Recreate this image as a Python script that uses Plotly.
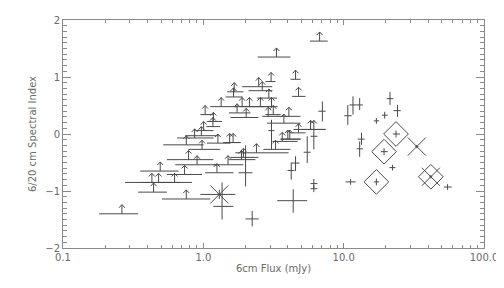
import plotly.graph_objects as go

# ---------------- data ----------------
# Lower limits on spectral index (arrows), 6cm flux (mJy) with flux range
lim_flux    = [0.263, 0.756, 0.442, 0.430, 0.480, 0.493, 0.624, 0.735, 0.902, 0.785,
               0.756, 0.867, 0.968, 0.979, 1.27, 1.25, 1.50, 1.54, 1.63, 1.87,
               1.93, 2.39, 3.27, 3.65, 4.00, 4.13, 4.77, 5.81, 6.13, 3.75,
               4.07, 2.90, 3.15, 3.06, 2.55, 2.13, 1.89, 2.02, 1.74, 1.34,
               1.03, 1.18, 1.17, 1.66, 1.64, 2.48, 2.63, 2.93, 3.04, 4.54,
               4.77, 3.32, 6.74, 1.005]
lim_flux_lo = [0.181, 0.507, 0.343, 0.277, 0.365, 0.355, 0.518, 0.550, 0.631, 0.550,
               0.518, 0.649, 0.744, 0.782, 1.06, 1.03, 1.18, 1.39, 1.39, 1.51,
               1.56, 1.69, 2.68, 3.11, 3.55, 3.55, 4.18, 4.39, 4.93, 2.85,
               3.36, 2.63, 2.77, 2.55, 2.23, 1.84, 1.64, 1.56, 1.52, 1.12,
               0.952, 1.06, 1.05, 1.48, 1.44, 1.89, 2.10, 2.42, 2.77, 4.18,
               4.30, 2.44, 5.75, 0.877]
lim_flux_hi = [0.343, 1.12, 0.550, 0.581, 0.685, 0.667, 0.830, 0.979, 1.25, 1.18,
               1.005, 1.18, 1.28, 1.32, 1.56, 1.64, 1.93, 1.84, 1.84, 2.35,
               2.47, 4.05, 4.18, 4.69, 4.93, 4.93, 5.35, 7.43, 7.43, 4.93,
               4.93, 3.43, 3.55, 3.38, 3.01, 2.68, 2.28, 2.47, 2.17, 1.74,
               1.18, 1.36, 1.32, 1.93, 1.90, 3.10, 3.11, 3.36, 3.27, 4.93,
               5.35, 4.18, 7.69, 1.18]
lim_index   = [-1.40, -1.14, -1.02, -0.85, -0.85, -0.65, -0.85, -0.71, -0.54, -0.45,
               -0.19, -0.07, -0.03, -0.27, -0.16, -0.68, -0.54, -0.15, -0.15, -0.45,
               -0.41, -0.33, -0.27, -0.13, -0.09, -0.09, 0.02, 0.08, 0.08, 0.19,
               0.31, 0.31, 0.34, 0.48, 0.48, 0.48, 0.48, 0.29, 0.37, 0.48,
               0.34, 0.22, 0.13, 0.74, 0.65, 0.83, 0.76, 0.63, 0.92, 0.96,
               0.66, 1.35, 1.63, 0.06]

# Detections with flux and index error ranges
det_flux     = [2.00, 4.54, 4.23, 5.50, 6.13, 6.13, 4.37, 2.23, 11.2, 1.36,
                7.05, 11.65, 13.0, 10.7, 13.4, 13.0, 6.13, 3.06, 21.4, 24.2,
                19.6, 17.1, 23.6, 19.4, 22.3, 17.1, 33.2, 41.8, 55.0, 1.30]
det_flux_lo  = [1.78, 4.25, 3.98, 5.18, 5.81, 5.81, 3.36, 2.00, 10.3, 1.18,
                6.60, 11.0, 12.4, 10.1, 12.6, 12.4, 5.81, 2.91, 20.3, 22.6,
                18.7, 16.4, 22.4, 18.4, 21.2, 16.4, 32.4, 40.8, 51.8, 0.952]
det_flux_hi  = [2.24, 4.85, 4.46, 5.81, 6.50, 6.50, 5.50, 2.48, 12.2, 1.64,
                7.43, 12.4, 13.7, 11.4, 14.1, 13.7, 6.50, 3.21, 22.6, 25.5,
                20.6, 17.9, 25.2, 20.6, 23.4, 17.9, 34.0, 42.8, 58.9, 1.69]
det_index    = [-0.68, -0.51, -0.64, -0.32, -0.87, -0.96, -1.17, -1.49, -0.84, -1.27,
                0.40, 0.51, 0.51, 0.32, -0.09, -0.26, -0.04, 0.06, 0.62, 0.41,
                0.33, 0.23, 0.00, -0.31, -0.59, -0.84, -0.22, -0.75, -0.93, -1.06]
det_index_lo = [-0.92, -0.65, -0.80, -0.51, -0.95, -1.02, -1.38, -1.62, -0.89, -1.50,
                0.22, 0.34, 0.42, 0.16, -0.19, -0.40, -0.27, -0.27, 0.51, 0.30,
                0.27, 0.18, -0.06, -0.37, -0.64, -0.90, -0.25, -0.78, -0.98, -1.14]
det_index_hi = [-0.20, -0.39, -0.50, -0.04, -0.79, -0.90, -0.97, -1.35, -0.79, -0.85,
                0.57, 0.66, 0.63, 0.51, 0.02, -0.13, 0.08, 0.25, 0.74, 0.51,
                0.39, 0.28, 0.06, -0.25, -0.54, -0.78, -0.19, -0.72, -0.88, -0.98]

# Highlighted sources
xmark_flux  = [1.30, 33.2, 41.8]
xmark_index = [-1.06, -0.22, -0.75]
diam_flux   = [23.6, 19.4, 17.1, 41.8]
diam_index  = [0.00, -0.31, -0.84, -0.75]

x_tick_vals = [0.1, 1, 10, 100]
x_tick_text = ['0.1', '1.0', '10.0', '100.0']
x_minor_vals = [m * d for d in (0.1, 1, 10) for m in range(2, 10)]

# ---------------- style ----------------
LINE = '#4a4a4a'
AXC = '#8a8a8a'
TXT = '#6a6a6a'
ARROW_LEN = 0.16   # length of limit arrow in index units
HEAD_F = 1.05      # half-width of arrow head (multiplicative in flux)
HEAD_H = 0.055     # arrow head height in index units

fig = go.Figure()

# limit points: horizontal flux bars + upward stem
fig.add_trace(go.Scatter(
    x=lim_flux, y=lim_index, mode='markers',
    marker=dict(size=1, color='rgba(0,0,0,0)'),
    error_x=dict(type='data', symmetric=False,
                 array=[h - f for h, f in zip(lim_flux_hi, lim_flux)],
                 arrayminus=[f - l for f, l in zip(lim_flux, lim_flux_lo)],
                 width=0, thickness=1, color=LINE),
    error_y=dict(type='data', symmetric=False,
                 array=[ARROW_LEN] * len(lim_flux),
                 arrayminus=[0] * len(lim_flux),
                 width=0, thickness=1, color=LINE),
    hoverinfo='skip', showlegend=False))

# arrow heads
hx, hy = [], []
for f, y in zip(lim_flux, lim_index):
    top = y + ARROW_LEN
    hx += [f / HEAD_F, f, f * HEAD_F, None]
    hy += [top - HEAD_H, top, top - HEAD_H, None]
fig.add_trace(go.Scatter(x=hx, y=hy, mode='lines', line=dict(color=LINE, width=1),
                         hoverinfo='skip', showlegend=False))

# detections
fig.add_trace(go.Scatter(
    x=det_flux, y=det_index, mode='markers',
    marker=dict(size=1, color='rgba(0,0,0,0)'),
    error_x=dict(type='data', symmetric=False,
                 array=[h - f for h, f in zip(det_flux_hi, det_flux)],
                 arrayminus=[f - l for f, l in zip(det_flux, det_flux_lo)],
                 width=0, thickness=1, color=LINE),
    error_y=dict(type='data', symmetric=False,
                 array=[h - y for h, y in zip(det_index_hi, det_index)],
                 arrayminus=[y - l for y, l in zip(det_index, det_index_lo)],
                 width=0, thickness=1, color=LINE),
    hoverinfo='skip', showlegend=False))

fig.add_trace(go.Scatter(x=xmark_flux, y=xmark_index, mode='markers',
                         marker=dict(symbol='x-thin-open', size=18, color=LINE,
                                     line=dict(color=LINE, width=1)),
                         hoverinfo='skip', showlegend=False))
fig.add_trace(go.Scatter(x=diam_flux, y=diam_index, mode='markers',
                         marker=dict(symbol='diamond-open', size=19, color=LINE,
                                     line=dict(color=LINE, width=1)),
                         hoverinfo='skip', showlegend=False))

# page body has an 8px default margin, so the figure is sized to fit the window
fig.update_layout(
    width=496, height=280,
    margin=dict(l=55, r=20, t=12, b=40),
    paper_bgcolor='white', plot_bgcolor='white',
    font=dict(family='DejaVu Sans', size=10, color=TXT),
    xaxis=dict(type='log', range=[-1, 2], tickmode='array',
               tickvals=x_tick_vals, ticktext=x_tick_text,
               ticks='inside', ticklen=5, tickcolor=AXC, tickwidth=1,
               minor=dict(tickmode='array', tickvals=x_minor_vals, ticks='inside',
                          ticklen=3, tickcolor=AXC, tickwidth=1),
               showline=True, linecolor=AXC, linewidth=1, mirror='allticks',
               showgrid=False, zeroline=False, automargin=False,
               title=dict(text='6cm Flux (mJy)', standoff=2, font=dict(size=10))),
    yaxis=dict(range=[-2, 2], tickmode='linear', tick0=0, dtick=1,
               ticks='inside', ticklen=8, tickcolor=AXC, tickwidth=1,
               minor=dict(dtick=0.1, ticks='inside', ticklen=4,
                          tickcolor=AXC, tickwidth=1),
               showline=True, linecolor=AXC, linewidth=1, mirror='allticks',
               showgrid=False, zeroline=False, automargin=False,
               title=dict(text='6/20 cm Spectral Index', standoff=6, font=dict(size=10))),
)

fig.write_html('out.html')
